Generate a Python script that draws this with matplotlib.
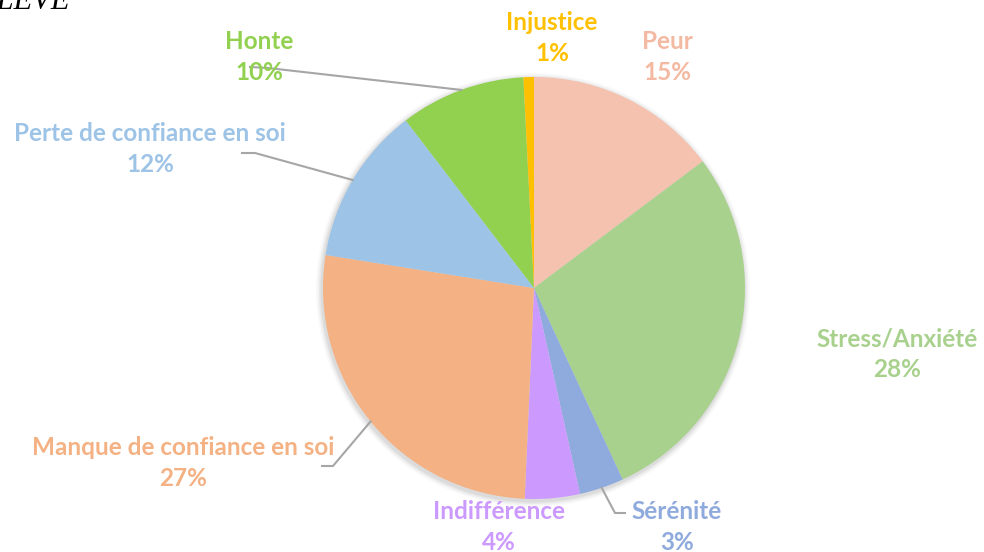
import numpy as np
import matplotlib
matplotlib.use("Agg")
import matplotlib.pyplot as plt
from matplotlib.patches import Circle

categories = ["Peur", "Stress/Anxiété", "Sérénité", "Indifférence",
              "Manque de confiance en soi", "Perte de confiance en soi",
              "Honte", "Injustice"]
values = [14.75, 28.35, 3.4, 4.2, 26.8, 12.1, 9.6, 0.8]
colors = ["#F4C2AE", "#A9D18E", "#8FAADC", "#CC99FF",
          "#F4B183", "#9DC3E6", "#92D050", "#FFC000"]
text_colors = ["#F4B9A2", "#A9D18E", "#8FAADC", "#CC99FF",
               "#F4B183", "#9DC3E6", "#92D050", "#FFC000"]

W, H = 984, 552
fig = plt.figure(figsize=(W / 100, H / 100), dpi=100)
ax = fig.add_axes([0, 0, 1, 1])
ax.set_xlim(0, W)
ax.set_ylim(0, H)
ax.set_aspect("equal")
ax.axis("off")

def Y(py):
    return H - py

cx, cy, R = 534, Y(288), 211

# soft shadow
for i, a in enumerate([0.05, 0.04, 0.03, 0.02]):
    ax.add_patch(Circle((cx - 1, cy - 2), R + 1.5 + i * 1.5, color="#000000",
                        alpha=a, lw=0, zorder=0))

wedges, _ = ax.pie(values, colors=colors, startangle=90, counterclock=False,
                   center=(cx, cy), radius=R, wedgeprops=dict(linewidth=0),
                   frame=True)
ax.set_xlim(0, W)
ax.set_ylim(0, H)
ax.axis("off")

total = sum(values)
pct = [f"{round(v / total * 100)}%" for v in values]

# label positions (pixel coords of text centre), layout only
label_pos = {
    "Peur": (667, 57),
    "Stress/Anxiété": (897, 354),
    "Sérénité": (677, 527),
    "Indifférence": (499, 527),
    "Manque de confiance en soi": (183, 463),
    "Perte de confiance en soi": (150, 149),
    "Honte": (259, 57),
    "Injustice": (552, 38),
}

for cat, p, tc in zip(categories, pct, text_colors):
    x, y = label_pos[cat]
    ax.text(x, Y(y), f"{cat}\n{p}", ha="center", va="center", color=tc,
            fontsize=17.5, fontweight="bold", family=["Lato", "DejaVu Sans"],
            linespacing=1.38, zorder=5)

# leader lines from wedge mid-angle edge to label
def edge(w):
    mid = np.deg2rad((w.theta1 + w.theta2) / 2)
    return cx + R * np.cos(mid), cy + R * np.sin(mid)

idx = {c: i for i, c in enumerate(categories)}
lc = "#A6A6A6"
# Honte
ex, ey = edge(wedges[idx["Honte"]])
ax.plot([250, 268, ex], [Y(67), Y(68), ey], color=lc, lw=1.5, zorder=4)
# Perte
ex, ey = edge(wedges[idx["Perte de confiance en soi"]])
ax.plot([242, 255, ex], [Y(153), Y(153), ey], color=lc, lw=1.5, zorder=4)
# Manque
ex, ey = edge(wedges[idx["Manque de confiance en soi"]])
ax.plot([322, 333, ex], [Y(466), Y(466), ey], color=lc, lw=1.5, zorder=4)
# Sérénité
ex, ey = edge(wedges[idx["Sérénité"]])
ax.plot([ex, 615, 625], [ey, Y(513), Y(513)], color=lc, lw=1.5, zorder=4)

# cut-off title fragment at the top-left
ax.text(-22, Y(9), "ÉLÈVE", ha="left", va="baseline", fontsize=22,
        family="Liberation Serif", style="italic", color="black")

fig.savefig("out.png", dpi=100)
